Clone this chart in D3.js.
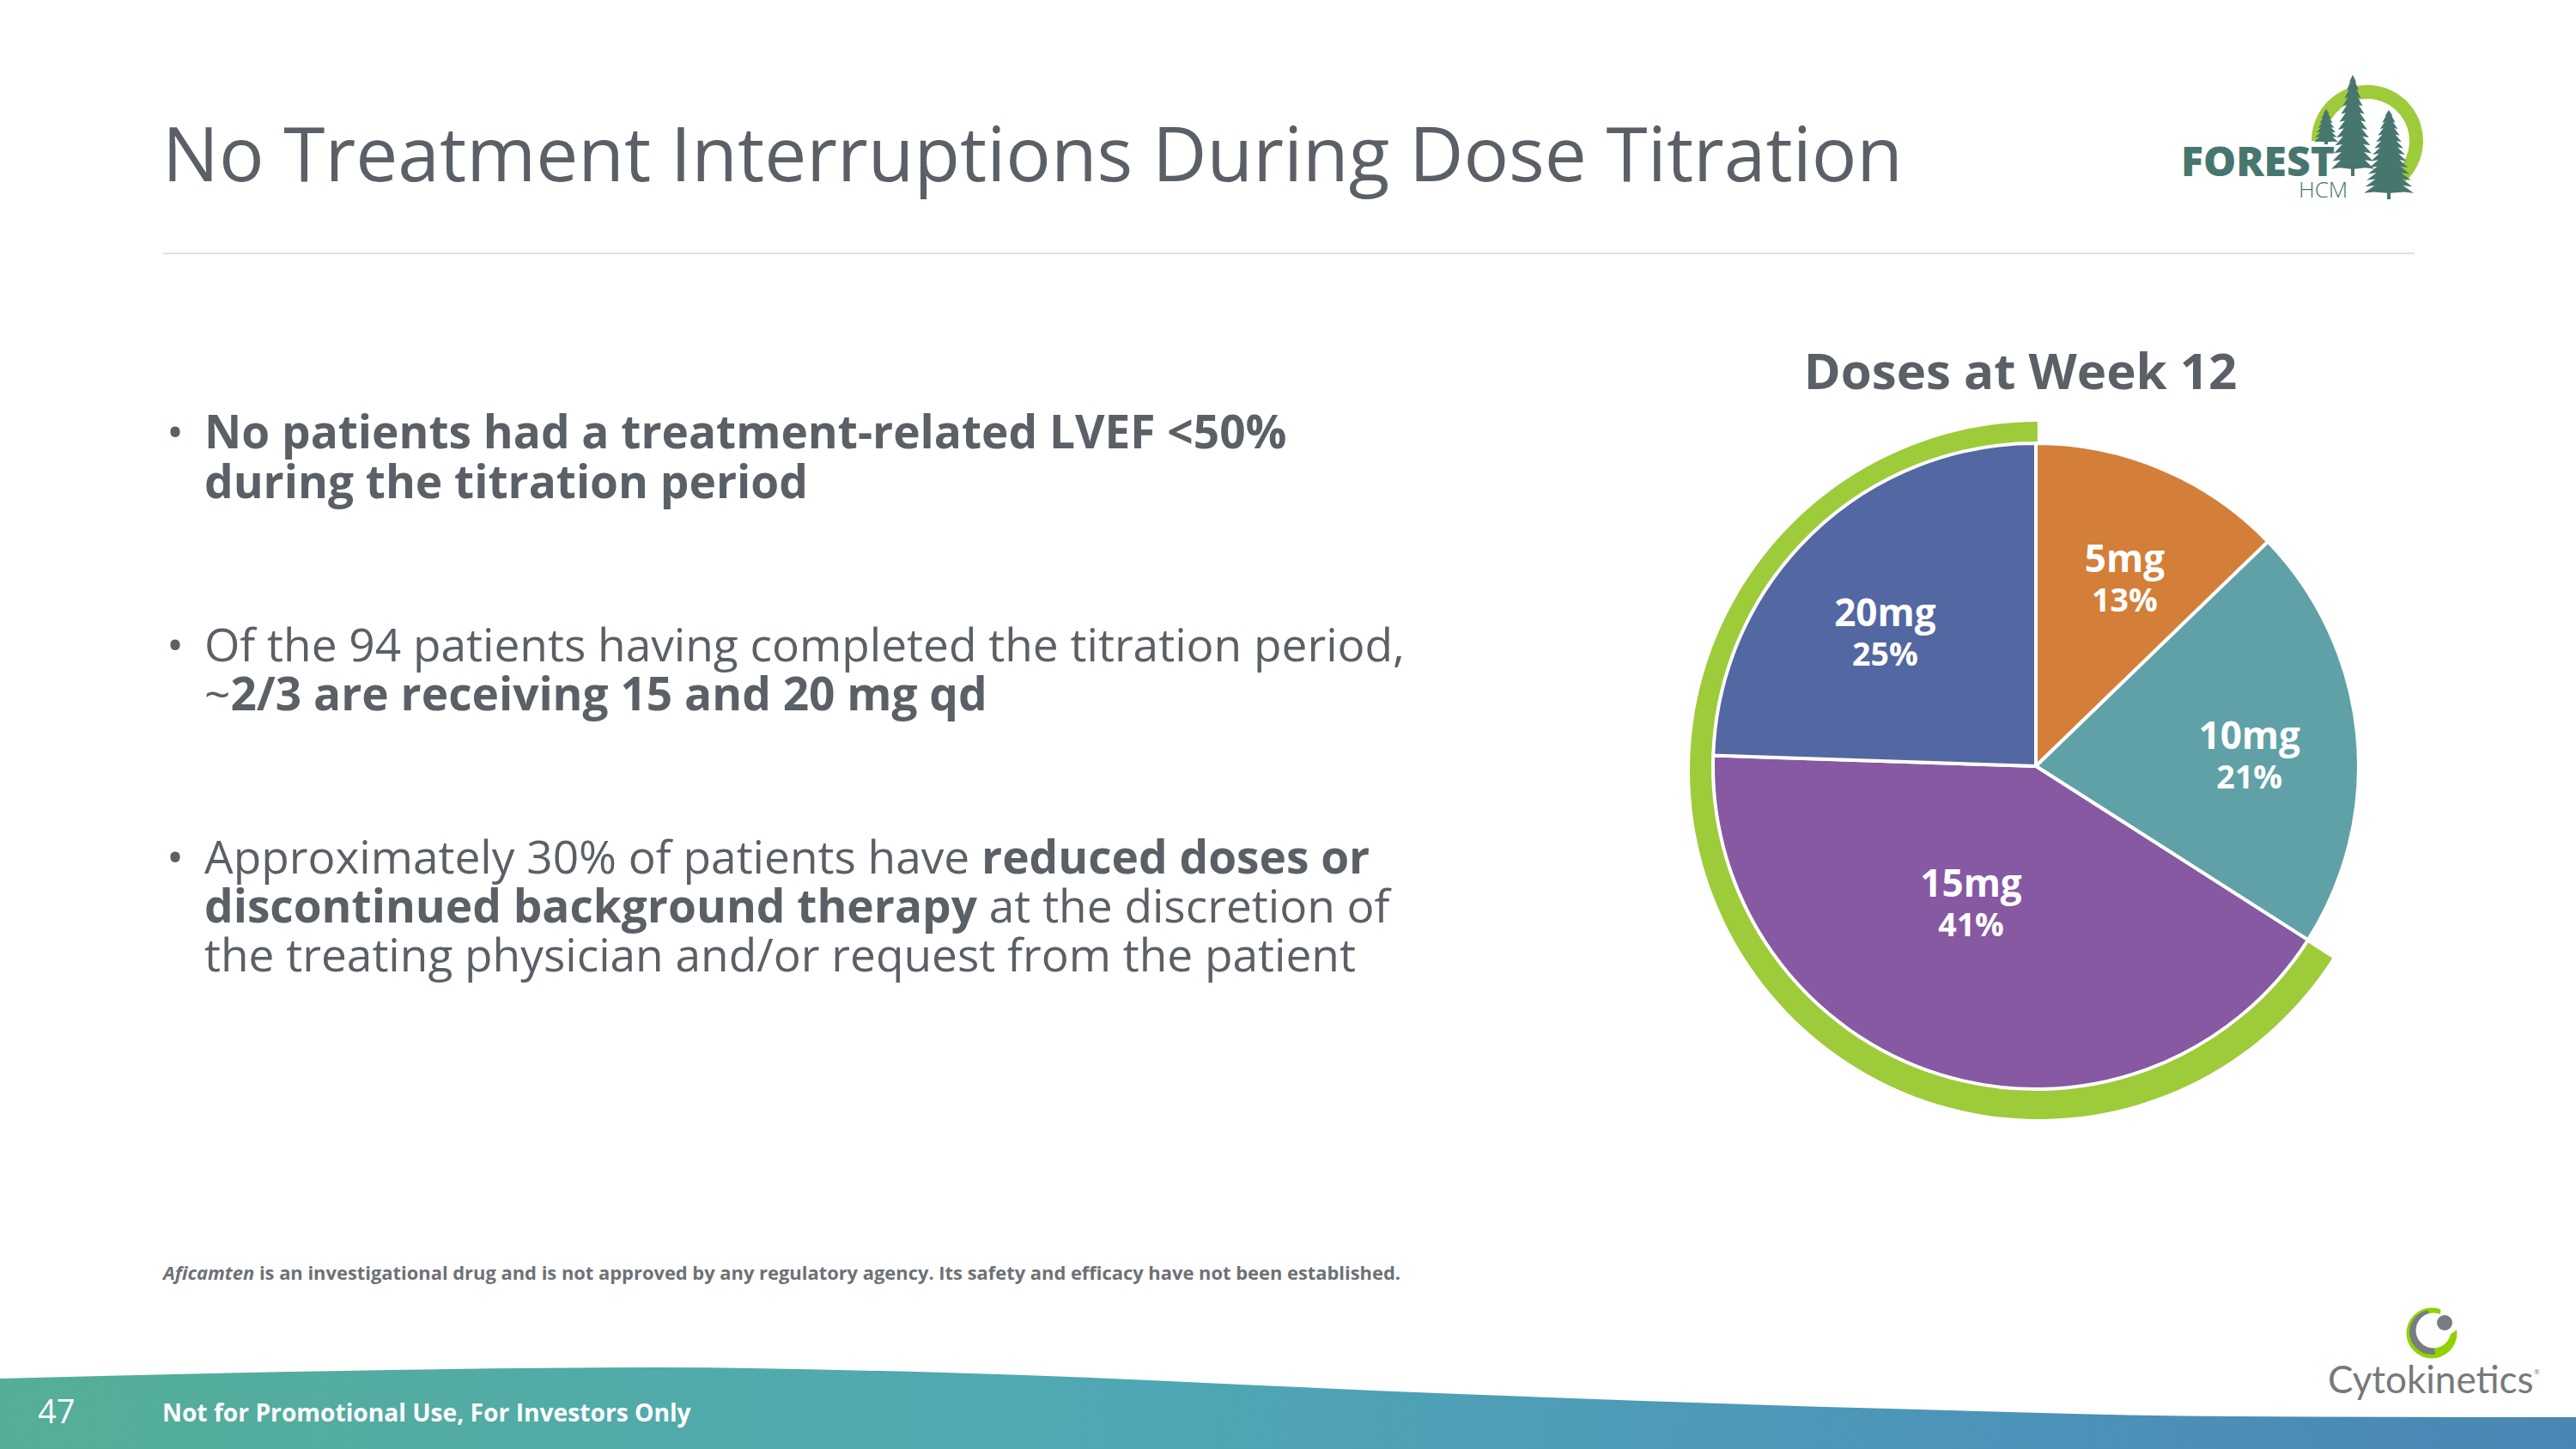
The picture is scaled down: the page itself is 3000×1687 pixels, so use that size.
<!DOCTYPE html>
<html>
<head>
<meta charset="utf-8">
<script src="https://cdn.jsdelivr.net/npm/d3@7"></script>
<style>
  html, body { margin: 0; padding: 0; background: #fff; }
  svg { display: block; }
  text { font-family: "Open Sans", sans-serif; }
</style>
</head>
<body>
<svg width="3000" height="1687"></svg>
<script>
// chart data
var doses = ['5mg', '10mg', '15mg', '20mg'];
var percentLabels = ['13%', '21%', '41%', '25%'];
// patients out of 94, these fit the slice angles better than the rounded labels
var patients = [12, 20, 39, 23];
var sliceColors = ['#d37f3a', '#60a1a8', '#8659a2', '#5367a3'];

var title = 'No Treatment Interruptions During Dose Titration';
var chartTitle = 'Doses at Week 12';
var footer = 'Not for Promotional Use, For Investors Only';
var pageNumber = '47';

var bullets = [
  [[{t: 'No patients had a treatment-related LVEF <50%', b: 1}],
   [{t: 'during the titration period', b: 1}]],
  [[{t: 'Of the 94 patients having completed the titration period,', b: 0}],
   [{t: '~', b: 0}, {t: '2/3 are receiving 15 and 20 mg qd', b: 1}]],
  [[{t: 'Approximately 30% of patients have ', b: 0}, {t: 'reduced doses or', b: 1}],
   [{t: 'discontinued background therapy', b: 1}, {t: ' at the discretion of', b: 0}],
   [{t: 'the treating physician and/or request from the patient', b: 0}]]
];
var bulletBaselines = [[522, 580], [770, 827], [1017, 1074, 1131]];

var gray = '#5b6067';
var svg = d3.select('svg');

// bottom wave
var defs = svg.append('defs');
var grad = defs.append('linearGradient').attr('id', 'wave');
grad.append('stop').attr('offset', '0').attr('stop-color', '#54ae97');
grad.append('stop').attr('offset', '0.4').attr('stop-color', '#50a9b3');
grad.append('stop').attr('offset', '0.75').attr('stop-color', '#4c95b9');
grad.append('stop').attr('offset', '1').attr('stop-color', '#4a86b4');

var waveTop = [[0, 1605], [400, 1596], [760, 1592], [1100, 1598], [1700, 1623], [2200, 1640], [2600, 1649], [3000, 1650]];
var waveArea = d3.area().x(function(d) { return d[0]; }).y0(1687).y1(function(d) { return d[1]; }).curve(d3.curveMonotoneX);
svg.append('path').attr('d', waveArea(waveTop)).attr('fill', 'url(#wave)');

// title and rule
svg.append('text').attr('x', 189).attr('y', 211).attr('font-size', 87.5).attr('fill', gray).text(title);
svg.append('line').attr('x1', 190).attr('x2', 2812).attr('y1', 295).attr('y2', 295).attr('stroke', '#dfe1e2').attr('stroke-width', 2);

// bullets
bullets.forEach(function(lines, i) {
  svg.append('text').attr('x', 194).attr('y', bulletBaselines[i][0]).attr('font-size', 53.2).attr('fill', gray).text('•');
  lines.forEach(function(line, j) {
    var t = svg.append('text').attr('x', 238).attr('y', bulletBaselines[i][j]).attr('font-size', 53.2).attr('fill', gray).attr('xml:space', 'preserve');
    line.forEach(function(run) {
      t.append('tspan').attr('font-weight', run.b ? 700 : 400).text(run.t);
    });
  });
});

// footnote
var note = svg.append('text').attr('x', 190).attr('y', 1490).attr('font-size', 21.9).attr('font-weight', 700).attr('fill', '#6d7176').attr('xml:space', 'preserve');
note.append('tspan').attr('font-style', 'italic').text('Aficamten');
note.append('tspan').text(' is an investigational drug and is not approved by any regulatory agency. Its safety and efficacy have not been established.');

// footer
svg.append('text').attr('x', 44).attr('y', 1657).attr('font-size', 38).attr('fill', '#fff').text(pageNumber);
svg.append('text').attr('x', 189).attr('y', 1655).attr('font-size', 28.2).attr('font-weight', 700).attr('fill', '#fff').text(footer);

// pie
var cx = 2371, cy = 892, radius = 376;
var pie = d3.pie().sort(null).value(function(d) { return d; });
var slices = pie(patients);
var arc = d3.arc().innerRadius(0).outerRadius(radius);

svg.append('text').attr('x', 2353).attr('y', 453).attr('text-anchor', 'middle')
  .attr('font-size', 58.2).attr('font-weight', 700).attr('fill', gray).text(chartTitle);

var chart = svg.append('g').attr('transform', 'translate(' + [cx, cy] + ')');

// green ring sits behind the 15mg and 20mg slices, a little off centre
var ring = d3.arc().innerRadius(radius - 12).outerRadius(radius + 30)
  .startAngle(slices[2].startAngle).endAngle(Math.PI * 2 - 0.003);
chart.append('path').attr('class', 'ring').attr('transform', 'translate(3,5)').attr('d', ring()).attr('fill', '#9ecb3a');

chart.selectAll('.slice')
  .data(slices)
  .enter()
  .append('path')
  .attr('class', 'slice')
  .attr('d', arc)
  .attr('fill', function(d, i) { return sliceColors[i]; })
  .attr('stroke', '#fff')
  .attr('stroke-width', 4);

// where each label sits along its slice
var labelRatio = [0.65, 0.67, 0.48, 0.63];
var labelNudge = [[8, 1], [-2, 7], [-22, -18], [-11, 9]];

var labels = chart.selectAll('.label')
  .data(slices)
  .enter()
  .append('g')
  .attr('class', 'label')
  .attr('transform', function(d, i) {
    var r = radius * labelRatio[i];
    var c = d3.arc().innerRadius(r).outerRadius(r).centroid(d);
    return 'translate(' + [c[0] + labelNudge[i][0], c[1] + labelNudge[i][1]] + ')';
  });
labels.append('text').attr('text-anchor', 'middle').attr('y', -2)
  .attr('font-size', 44).attr('font-weight', 700).attr('fill', '#fff')
  .text(function(d, i) { return doses[i]; });
labels.append('text').attr('text-anchor', 'middle').attr('y', 44)
  .attr('font-size', 37.5).attr('font-weight', 700).attr('fill', '#fff')
  .text(function(d, i) { return percentLabels[i]; });

// FOREST HCM logo
var forest = '#47766f';
var logo = svg.append('g');
logo.append('path').attr('transform', 'translate(2757,164)')
  .attr('d', d3.arc().innerRadius(49).outerRadius(65).startAngle(-Math.PI / 2).endAngle(Math.PI * 0.85)())
  .attr('fill', '#9ecb3a');

function tree(x, top, base, halfWidth, tiers) {
  var left = [], right = [];
  d3.range(1, tiers + 1).forEach(function(k) {
    var f = k / tiers;
    var y = top + (base - top) * 0.93 * f;
    var w = halfWidth * Math.pow(f, 0.7);
    right.push([x + w, y], [x + w * 0.6, y - (base - top) * 0.012]);
    left.push([x - w, y], [x - w * 0.6, y - (base - top) * 0.012]);
  });
  var pts = [[x, top]].concat(right, [[x + 2, top + (base - top) * 0.93], [x + 2, base], [x - 2, base], [x - 2, top + (base - top) * 0.93]], left.reverse());
  logo.append('path').attr('d', d3.line()(pts) + 'Z').attr('fill', forest);
}
tree(2709, 127, 168, 14, 7);
tree(2740, 87, 205, 25, 12);
tree(2782, 128, 232, 29, 13);

logo.append('text').attr('x', 2540).attr('y', 205).attr('font-size', 48).attr('font-weight', 800).attr('fill', forest).text('FOREST');
logo.append('text').attr('x', 2677).attr('y', 230).attr('font-size', 26).attr('font-weight', 300).attr('fill', forest).text('HCM');

// Cytokinetics logo
var cyto = svg.append('g');
var logoGray = '#797c80';
cyto.append('circle').attr('cx', 2832).attr('cy', 1552).attr('r', 29.5).attr('fill', '#8fd300');
cyto.append('path').attr('transform', 'translate(2832,1551)')
  .attr('d', d3.arc().innerRadius(0).outerRadius(26).startAngle(Math.PI * 0.95).endAngle(Math.PI * 1.95)())
  .attr('fill', logoGray);
cyto.append('circle').attr('cx', 2834).attr('cy', 1549).attr('r', 20.5).attr('fill', '#fff');
cyto.append('path').attr('d', 'M2843 1520 L2870 1520 L2870 1547 L2860 1549 L2850 1556 L2840 1545 Z').attr('fill', '#fff');
cyto.append('circle').attr('cx', 2847).attr('cy', 1540).attr('r', 9).attr('fill', logoGray);
cyto.append('text').attr('x', 2711).attr('y', 1622).attr('font-size', 44).attr('fill', '#77797c').style('font-family', 'Lato').text('Cytokinetics');
cyto.append('text').attr('x', 2951).attr('y', 1600).attr('font-size', 8).attr('fill', '#77797c').text('®');
</script>
</body>
</html>
